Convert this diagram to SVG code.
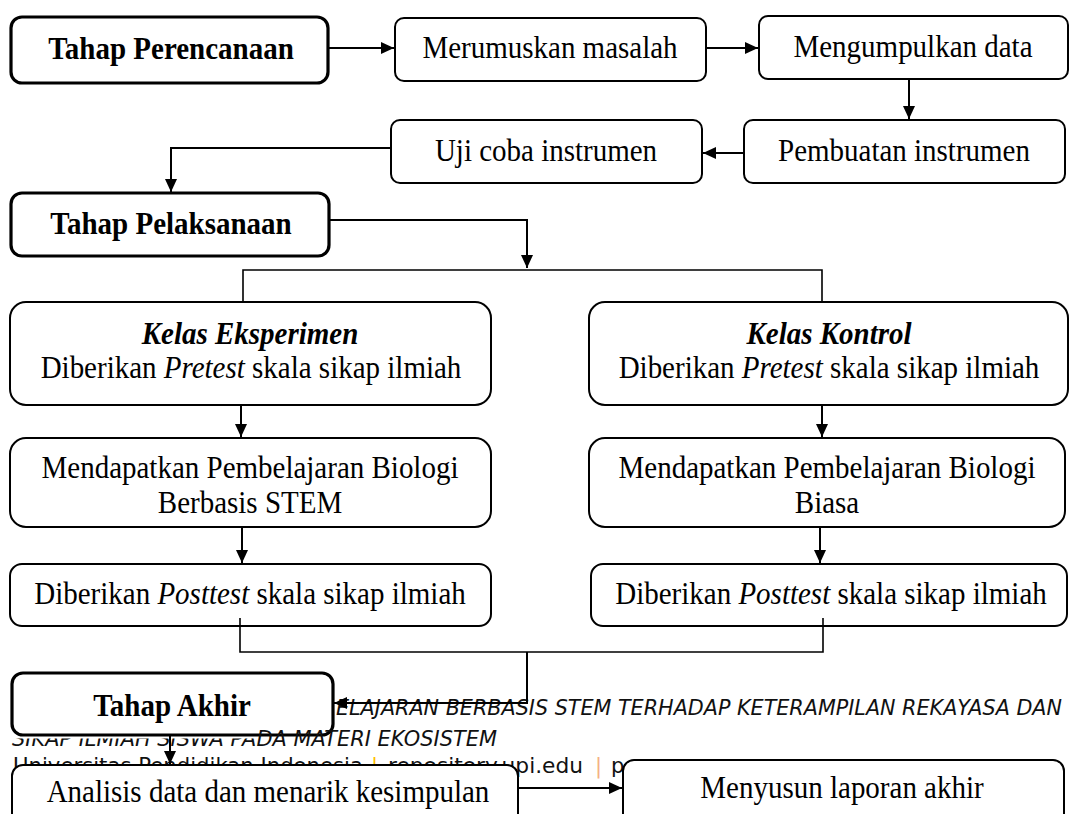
<svg xmlns="http://www.w3.org/2000/svg" width="1071" height="814" viewBox="0 0 1071 814">
<style>
.box{fill:#fff;stroke:#000;stroke-width:2}
.thick{fill:#fff;stroke:#000;stroke-width:3.2}
.t{font-family:"Liberation Serif","Times New Roman",serif;font-size:29px;fill:#000;text-anchor:middle}
.b{font-weight:bold}
.i{font-style:italic}
.c{fill:none;stroke:#000;stroke-width:2}
.s{fill:none;stroke:#000;stroke-width:1.6}
.f{font-family:"DejaVu Sans","Liberation Sans",sans-serif;font-size:21px;fill:#111}
</style>
<defs>
<marker id="ah" markerUnits="userSpaceOnUse" markerWidth="13" markerHeight="12" refX="13" refY="6" orient="auto">
<path d="M0,0 L13,6 L0,12 z" fill="#000"/>
</marker>
<clipPath id="clip2">
<rect x="0" y="738.5" width="255" height="30"/>
<rect x="255" y="715" width="816" height="52"/>
</clipPath>
</defs>
<rect width="1071" height="814" fill="#fff"/>

<g id="footer-back">
<text class="f" font-style="italic" x="336" y="715" textLength="726" lengthAdjust="spacingAndGlyphs">ELAJARAN BERBASIS STEM TERHADAP KETERAMPILAN REKAYASA DAN</text>
<text class="f" y="773"><tspan x="13" textLength="350" lengthAdjust="spacingAndGlyphs">Universitas Pendidikan Indonesia</tspan><tspan x="371" fill="#FFC000">|</tspan><tspan x="388" textLength="195" lengthAdjust="spacingAndGlyphs">repository.upi.edu</tspan><tspan x="595" fill="#F4B183">|</tspan><tspan x="611">p</tspan></text>
</g>

<g id="n-perencanaan"><rect class="thick" x="11" y="17" width="317" height="66" rx="11"/><text class="t b" transform="matrix(1,0,0,1.07,171,59)">Tahap Perencanaan</text></g>
<g id="n-merumuskan"><rect class="box" x="395" y="18" width="311" height="63" rx="9"/><text class="t" transform="matrix(1,0,0,1.07,550,58)">Merumuskan masalah</text></g>
<g id="n-mengumpulkan"><rect class="box" x="759" y="16" width="309" height="63" rx="9"/><text class="t" transform="matrix(1,0,0,1.07,913,57)">Mengumpulkan data</text></g>
<g id="n-pembuatan"><rect class="box" x="744" y="120" width="321" height="63" rx="9"/><text class="t" transform="matrix(1,0,0,1.07,904,161)">Pembuatan instrumen</text></g>
<g id="n-ujicoba"><rect class="box" x="391" y="120" width="311" height="63" rx="9"/><text class="t" transform="matrix(1,0,0,1.07,546,161)">Uji coba instrumen</text></g>
<g id="n-pelaksanaan"><rect class="thick" x="11" y="193" width="318" height="63" rx="11"/><text class="t b" transform="matrix(1,0,0,1.07,171,234)">Tahap Pelaksanaan</text></g>

<g id="n-kelas-eksperimen"><rect class="box" x="10" y="302" width="481" height="103" rx="16"/><text class="t b i" transform="matrix(1,0,0,1.07,250,344)">Kelas Eksperimen</text><text class="t" transform="matrix(1,0,0,1.07,251,378)">Diberikan <tspan font-style="italic">Pretest</tspan> skala sikap ilmiah</text></g>
<g id="n-stem"><rect class="box" x="10" y="438" width="481" height="89" rx="16"/><text class="t" transform="matrix(1,0,0,1.07,250,478)">Mendapatkan Pembelajaran Biologi</text><text class="t" transform="matrix(1,0,0,1.07,250,513)">Berbasis STEM</text></g>
<g id="n-posttest-eks"><rect class="box" x="10" y="564" width="481" height="62" rx="12"/><text class="t" transform="matrix(1,0,0,1.07,250,604)">Diberikan <tspan font-style="italic">Posttest</tspan> skala sikap ilmiah</text></g>

<g id="n-kelas-kontrol"><rect class="box" x="589" y="302" width="479" height="103" rx="16"/><text class="t b i" transform="matrix(1,0,0,1.07,829,344)">Kelas Kontrol</text><text class="t" transform="matrix(1,0,0,1.07,829,378)">Diberikan <tspan font-style="italic">Pretest</tspan> skala sikap ilmiah</text></g>
<g id="n-biasa"><rect class="box" x="589" y="438" width="476" height="89" rx="16"/><text class="t" transform="matrix(1,0,0,1.07,827,478)">Mendapatkan Pembelajaran Biologi</text><text class="t" transform="matrix(1,0,0,1.07,827,513)">Biasa</text></g>
<g id="n-posttest-kon"><rect class="box" x="591" y="564" width="476" height="62" rx="12"/><text class="t" transform="matrix(1,0,0,1.07,831,604)">Diberikan <tspan font-style="italic">Posttest</tspan> skala sikap ilmiah</text></g>

<g id="n-akhir"><rect class="thick" x="12" y="673" width="321" height="62" rx="11"/><text class="t b" transform="matrix(1,0,0,1.07,172,716)">Tahap Akhir</text></g>
<g id="n-analisis"><rect class="box" x="12" y="765" width="506" height="80" rx="11"/><text class="t" transform="matrix(1,0,0,1.07,268,802)">Analisis data dan menarik kesimpulan</text></g>
<g id="n-laporan"><rect class="box" x="623" y="760" width="441" height="80" rx="11"/><text class="t" transform="matrix(1,0,0,1.07,842,798)">Menyusun laporan akhir</text></g>

<g id="footer-front">
<text class="f" font-style="italic" x="12" y="746" textLength="485" lengthAdjust="spacingAndGlyphs" clip-path="url(#clip2)">SIKAP ILMIAH SISWA PADA MATERI EKOSISTEM</text>
</g>

<g id="connectors">
<path class="c" d="M329,48 H394" marker-end="url(#ah)"/>
<path class="c" d="M707,48 H758" marker-end="url(#ah)"/>
<path class="c" d="M909,80 V119" marker-end="url(#ah)"/>
<path class="c" d="M743,153 H703" marker-end="url(#ah)"/>
<path class="c" d="M390,148 H171 V192" marker-end="url(#ah)"/>
<path class="c" d="M330,220 H527 V268" marker-end="url(#ah)"/>
<path class="s" d="M243,302 V270 H822 V302"/>
<path class="c" d="M241,406 V437" marker-end="url(#ah)"/>
<path class="c" d="M822,406 V437" marker-end="url(#ah)"/>
<path class="c" d="M242,528 V563" marker-end="url(#ah)"/>
<path class="c" d="M820,528 V563" marker-end="url(#ah)"/>
<path class="s" d="M240,618 V652 H823 V618"/>
<path class="c" d="M527,652 V703 H334" marker-end="url(#ah)"/>
<path class="c" d="M170,736 V764" marker-end="url(#ah)"/>
<path class="c" d="M519,788 H622" marker-end="url(#ah)"/>
</g>
</svg>
